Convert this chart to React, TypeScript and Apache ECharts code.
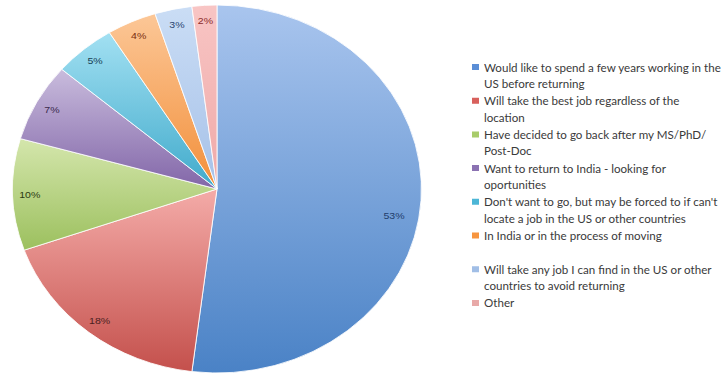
import React, { useEffect, useRef } from 'react';
import * as echarts from 'echarts';

const categories = [
  'Would like to spend a few years working in the\nUS before returning',
  'Will take the best job regardless of the\nlocation',
  'Have decided to go back after my MS/PhD/\nPost-Doc',
  'Want to return to India - looking for\noportunities',
  "Don't want to go, but may be forced to if can't\nlocate a job in the US or other countries",
  'In India or in the process of moving',
  'Will take any job I can find in the US or other\ncountries to avoid returning',
  'Other',
];
const values = [53, 18, 10, 7, 5, 4, 3, 2];
const topColors = ['#A9C5EE', '#F4ABA8', '#D4E6AC', '#C9BCDD', '#A2E0F2', '#FCC797', '#CADDF5', '#F8C5C4'];
const bottomColors = ['#4A82C6', '#C4504C', '#9CC05E', '#8266A8', '#40AACB', '#F28F3A', '#A6C1E8', '#EFA9A8'];
const legendColors = ['#5B8ED6', '#D8605C', '#A8CC6A', '#8B72B2', '#4DB6D6', '#F7953F', '#A1BEE6', '#E8A9A8'];
const labelColors = ['#1F3D6B', '#4A1E1E', '#2B3A12', '#3A2A4D', '#163F55', '#7A2E10', '#2A4570', '#8B2A2A'];

export default function App() {
  const pieRef = useRef<HTMLDivElement>(null);
  const legRef = useRef<HTMLDivElement>(null);

  useEffect(() => {
    const pie = echarts.init(pieRef.current!, null, { renderer: 'svg' });
    const leg = echarts.init(legRef.current!, null, { renderer: 'svg' });

    const sliceData = values.map((v, i) => ({
      name: categories[i],
      value: v,
      itemStyle: {
        color: new echarts.graphic.LinearGradient(0, 0, 0, 1, [
          { offset: 0, color: topColors[i] },
          { offset: 1, color: bottomColors[i] },
        ]),
      },
    }));

    pie.setOption({
      animation: false,
      series: [
        {
          type: 'pie',
          radius: '100%',
          center: ['50%', '50%'],
          startAngle: 90,
          silent: true,
          label: { show: false },
          labelLine: { show: false },
          itemStyle: { borderColor: '#ffffff', borderWidth: 0.8 },
          data: sliceData,
        },
        {
          type: 'pie',
          radius: ['80%', '100%'],
          center: ['50%', '50%'],
          startAngle: 90,
          silent: true,
          itemStyle: { color: 'rgba(0,0,0,0)', borderWidth: 0 },
          labelLine: { show: false },
          label: {
            show: true,
            position: 'inside',
            formatter: '{c}%',
            fontFamily: 'Liberation Sans',
            fontSize: 9.5,
            fontWeight: 'normal',
          },
          data: values.map((v, i) => ({
            name: categories[i],
            value: v,
            label: i === 0 ? { color: labelColors[i], offset: [-9, 16] } : { color: labelColors[i] },
          })),
        },
      ],
    });

    const lh = 16.5;
    const boxH = lh * 2;
    const top0 = lh / 2 - 3;
    const iconPath = `path://M0,${top0}h7v6h-7zM0,0L0,${boxH}`;
    leg.setOption({
      animation: false,
      legend: {
        orient: 'vertical',
        left: 7,
        top: 67 - lh / 2,
        padding: 0,
        icon: iconPath,
        itemWidth: 7,
        itemHeight: boxH,
        itemGap: 0.7,
        selectedMode: false,
        formatter: (name: string) => (name.includes('\n') ? name : name + '\n '),
        textStyle: {
          fontFamily: 'Lato',
          fontSize: 11.6,
          color: '#3A3A3A',
          lineHeight: lh,
        },
        data: categories.map((name, i) => ({
          name,
          itemStyle: { color: legendColors[i], borderWidth: 0 },
        })),
      },
      series: [
        {
          type: 'pie',
          radius: 0,
          center: [-50, -50],
          silent: true,
          label: { show: false },
          labelLine: { show: false },
          data: values.map((v, i) => ({
            name: categories[i],
            value: v,
            itemStyle: { color: legendColors[i] },
          })),
        },
      ],
    });

    return () => {
      pie.dispose();
      leg.dispose();
    };
  }, []);

  return (
    <div
      style={{
        position: 'fixed',
        left: 0,
        top: 0,
        width: 725,
        height: 386,
        background: '#ffffff',
        overflow: 'hidden',
      }}
    >
      <div
        ref={pieRef}
        style={{
          position: 'absolute',
          left: 32.5,
          top: 5,
          width: 368,
          height: 368,
          transform: 'scaleX(1.111)',
          transformOrigin: '50% 50%',
        }}
      />
      <div
        ref={legRef}
        style={{ position: 'absolute', left: 465, top: 0, width: 260, height: 386 }}
      />
    </div>
  );
}
